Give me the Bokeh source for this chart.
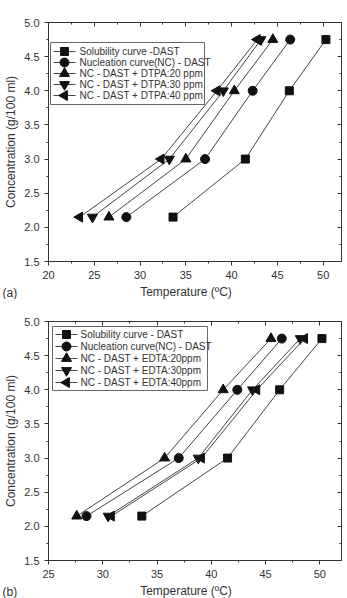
import math
from bokeh.plotting import figure
from bokeh.layouts import column
from bokeh.models import (LinearAxis, Range1d, SingleIntervalTicker, Label,
                          NumeralTickFormatter, CustomJSTickFormatter)
from bokeh.core.properties import value
from bokeh.embed import file_html
from bokeh.resources import INLINE

# ---- data ----
conc = [2.15, 3.0, 4.0, 4.75]

a_solubility = [33.6, 41.5, 46.3, 50.3]
a_nucleation = [28.5, 37.1, 42.3, 46.4]
a_dtpa20 = [26.6, 35.0, 40.3, 44.5]
a_dtpa30 = [24.8, 33.2, 39.1, 43.2]
a_dtpa40 = [23.4, 32.3, 38.4, 42.8]
a_labels = ["Solubility curve -DAST", "Nucleation curve(NC) - DAST",
            "NC - DAST + DTPA:20 ppm", "NC - DAST + DTPA:30 ppm",
            "NC - DAST + DTPA:40 ppm"]

b_solubility = [33.6, 41.5, 46.3, 50.2]
b_nucleation = [28.5, 37.0, 42.4, 46.5]
b_edta20 = [27.6, 35.7, 41.1, 45.5]
b_edta30 = [30.5, 38.8, 43.8, 48.2]
b_edta40 = [30.8, 39.1, 44.2, 48.6]
b_labels = ["Solubility curve - DAST", "Nucleation curve(NC) - DAST",
            "NC - DAST + EDTA:20ppm", "NC - DAST + EDTA:30ppm",
            "NC - DAST + EDTA:40ppm"]

X_TITLE = "Temperature (ºC)"
Y_TITLE = "Concentration (g/100 ml)"

FONT = "Liberation Sans"
TXT = "#333333"
LINE = "#444444"
MK = "#111111"

markers = [("square", 0, 8), ("circle", 0, 9), ("triangle", 0, 10),
           ("inverted_triangle", 0, 10), ("triangle", math.pi / 2, 10)]

FIG_W, FIG_H = 347, 299
B_LEFT, B_RIGHT, B_TOP, B_BOTTOM = 48, 6, 22, 38
FRAME_W = FIG_W - B_LEFT - B_RIGHT
FRAME_H = FIG_H - B_TOP - B_BOTTOM
X_END, Y_START, Y_END = 52, 1.5, 5.0


def make_panel(series, labels, x_start, tag, leg):
    p = figure(width=FIG_W, height=FIG_H, output_backend="svg", toolbar_location=None,
               x_range=Range1d(x_start, X_END), y_range=Range1d(Y_START, Y_END),
               min_border_left=B_LEFT, min_border_right=B_RIGHT, min_border_top=B_TOP,
               min_border_bottom=B_BOTTOM)
    p.background_fill_color = "white"
    p.border_fill_color = "white"
    p.outline_line_color = "#333333"
    p.outline_line_width = 1
    p.xgrid.visible = False
    p.ygrid.visible = False

    xa = p.xaxis[0]
    ya = p.yaxis[0]
    xa.ticker = SingleIntervalTicker(interval=5, num_minor_ticks=2)
    ya.ticker = SingleIntervalTicker(interval=0.5, num_minor_ticks=2)
    ya.formatter = NumeralTickFormatter(format="0.0")
    for ax in (xa, ya):
        ax.axis_line_color = "#333333"
        ax.major_tick_line_color = "#333333"
        ax.minor_tick_line_color = "#333333"
        ax.major_tick_out = 4
        ax.major_tick_in = 0
        ax.minor_tick_out = 2
        ax.minor_tick_in = 0
        ax.major_label_text_font = FONT
        ax.major_label_text_font_size = "11px"
        ax.major_label_text_color = TXT
        ax.axis_label_text_font = FONT
        ax.axis_label_text_font_size = "12px"
        ax.axis_label_text_font_style = "normal"
        ax.axis_label_text_color = TXT
    xa.major_label_standoff = 5
    ya.axis_label = Y_TITLE
    ya.major_label_standoff = 5
    ya.axis_label_standoff = 3

    for side in ("above", "right"):
        t = SingleIntervalTicker(interval=5, num_minor_ticks=2) if side == "above" \
            else SingleIntervalTicker(interval=0.5, num_minor_ticks=2)
        ax = LinearAxis(ticker=t, formatter=CustomJSTickFormatter(code="return ''"))
        ax.major_label_standoff = 0
        ax.axis_line_color = None
        ax.major_tick_line_color = "#333333"
        ax.minor_tick_line_color = "#333333"
        ax.major_tick_in = 4
        ax.major_tick_out = 0
        ax.minor_tick_in = 2
        ax.minor_tick_out = 0
        p.add_layout(ax, side)

    for xs, (mk, ang, sz) in zip(series, markers):
        p.line(xs, conc, line_color=LINE, line_width=1)
        p.scatter(xs, conc, marker=mk, angle=ang, size=sz, fill_color=MK, line_color=MK)

    def fx(px):
        return x_start + px * (X_END - x_start) / FRAME_W

    def fy(py):
        return Y_END - py * (Y_END - Y_START) / FRAME_H

    bl, bt, bw, r0, rs, gl, tl = leg
    bh = 2 * r0 + rs * (len(labels) - 1)
    p.quad(left=[fx(bl)], right=[fx(bl + bw)], top=[fy(bt)], bottom=[fy(bt + bh)],
           fill_color="white", line_color="#666666", line_width=1, level="overlay")
    for i, (lab, (mk, ang, sz)) in enumerate(zip(labels, markers)):
        ry = fy(bt + r0 + i * rs)
        p.line([fx(gl), fx(gl + 22)], [ry, ry], line_color=LINE, line_width=1, level="overlay")
        p.scatter([fx(gl + 11)], [ry], marker=mk, angle=ang, size=sz,
                  fill_color=MK, line_color=MK, level="overlay")
        p.text([fx(tl)], [ry], text=[lab], text_font=value(FONT), text_font_size="10px",
               text_color=TXT, text_baseline="middle", text_align="left", level="overlay")

    # x-axis title, hosted in its own panel below the tick labels
    p.add_layout(Label(x=FRAME_W / 2 - 9, y=4, x_units="screen", y_units="screen",
                       text=X_TITLE, text_align="center", text_baseline="alphabetic",
                       text_font=FONT, text_font_size="12px", text_color=TXT), "below")
    # panel tag, hosted in the top side panel and shifted down to the bottom-left corner
    p.add_layout(Label(x=-46, y=-277, x_units="screen", y_units="screen", text=tag,
                       text_font=FONT, text_font_size="12px", text_color=TXT), "above")
    return p


pa = make_panel([a_solubility, a_nucleation, a_dtpa20, a_dtpa30, a_dtpa40],
                a_labels, 20, "(a)", (2, 20, 154, 9, 11, 5, 31))
pb = make_panel([b_solubility, b_nucleation, b_edta20, b_edta30, b_edta40],
                b_labels, 25, "(b)", (4, 5, 155, 8, 12, 7, 32))

layout = column(pa, pb, spacing=0)
open("out.html", "w").write(file_html(layout, INLINE))
